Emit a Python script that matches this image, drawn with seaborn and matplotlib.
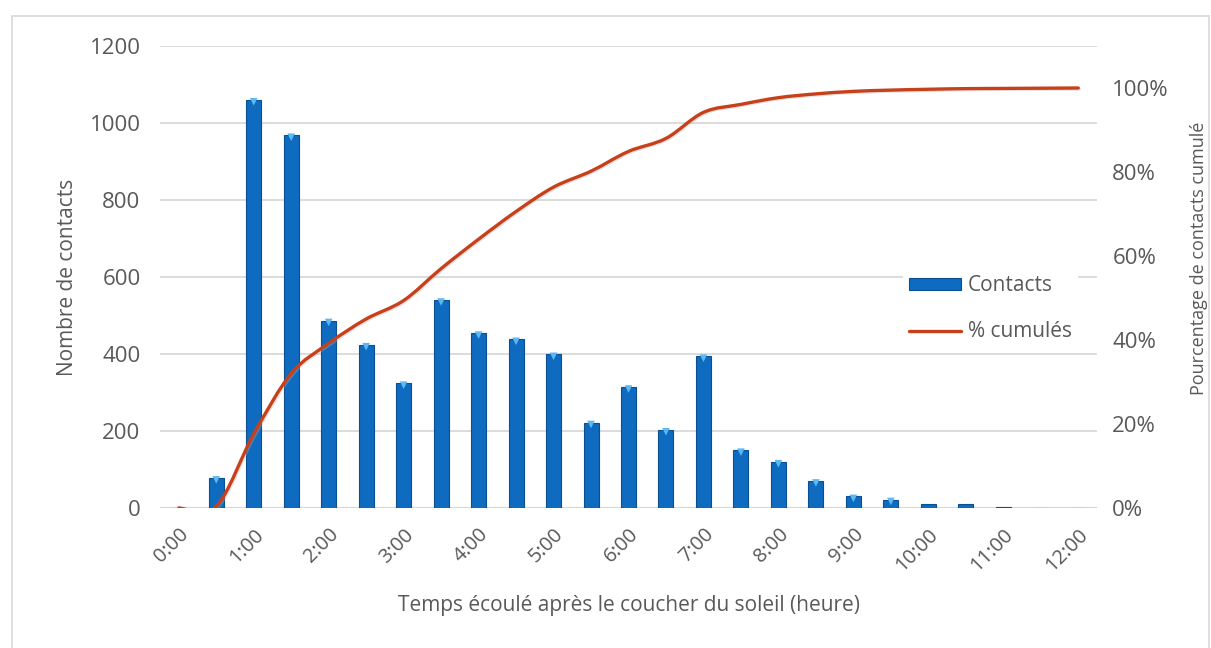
import numpy as np
import pandas as pd
import matplotlib
matplotlib.use("Agg")
import matplotlib.pyplot as plt
from matplotlib.path import Path
from matplotlib.patches import PathPatch, Rectangle, Patch
from matplotlib.lines import Line2D
from matplotlib.ticker import FixedLocator, PercentFormatter
import matplotlib.patheffects as pe
import seaborn as sns

# Half-hour bins after sunset
times = ["0:00", "0:30", "1:00", "1:30", "2:00", "2:30", "3:00", "3:30", "4:00",
         "4:30", "5:00", "5:30", "6:00", "6:30", "7:00", "7:30", "8:00", "8:30",
         "9:00", "9:30", "10:00", "10:30", "11:00", "11:30", "12:00"]
contacts = [0, 78, 1060, 968, 487, 424, 324, 540, 454, 438, 399, 222, 314, 203,
            394, 150, 120, 70, 30, 22, 11, 11, 3, 0, 1]
cumul_pct = [0.0, 0.4, 17.6, 32.0, 39.2, 45.0, 49.4, 57.0, 64.0, 70.6, 76.4, 80.2,
             84.9, 88.0, 94.2, 96.1, 97.7, 98.6, 99.2, 99.5, 99.7, 99.85, 99.9,
             99.95, 100.0]
hour_labels = ["0:00", "1:00", "2:00", "3:00", "4:00", "5:00", "6:00", "7:00",
               "8:00", "9:00", "10:00", "11:00", "12:00"]

TXT = "#595959"
GRID = "#D9D9D9"
BAR = "#0F6BBF"
BAR_EDGE = "#0B4F92"
BEVEL = "#5BB8F2"
LINE = "#C8401A"

sns.set_theme(style="white")
plt.rcParams["font.family"] = ["Open Sans", "DejaVu Sans"]
plt.rcParams["text.color"] = TXT
plt.rcParams["axes.labelcolor"] = TXT
plt.rcParams["xtick.color"] = TXT
plt.rcParams["ytick.color"] = TXT

df = pd.DataFrame({"temps": times, "contacts": contacts, "cumul": cumul_pct})

fig = plt.figure(figsize=(12.11, 6.48), dpi=100)
fig.patches.append(Rectangle((12 / 1211, -0.01), 1197 / 1211, (648 - 16) / 648 + 0.01,
                             transform=fig.transFigure, fill=False,
                             edgecolor=GRID, linewidth=1.2))
ax = fig.add_axes([160 / 1211, (648 - 508) / 648, 937 / 1211, 462 / 648])

sns.barplot(data=df, x="temps", y="contacts", order=times, color=BAR,
            width=0.4, saturation=1, edgecolor=BAR_EDGE, linewidth=0.8,
            ax=ax, zorder=2)

# Light bevel on bar tops
idx = np.arange(len(times))
vals = np.asarray(contacts, dtype=float)
show = vals >= 15
ax.scatter(idx[show], vals[show] - 5, marker="v", s=30, color=BEVEL,
           edgecolors="none", zorder=3)

ax.set_ylim(0, 1200)
ax.set_xlim(-0.5, len(times) - 0.5)
ax.yaxis.set_major_locator(FixedLocator(np.arange(0, 1201, 200)))
ax.grid(axis="y", color=GRID, linewidth=1.3, zorder=0)
ax.set_axisbelow(True)
for s in ax.spines.values():
    s.set_visible(False)
ax.axhline(0, color=GRID, linewidth=1.6, zorder=1)

tick_pos = [times.index(h) for h in hour_labels]
ax.set_xticks(tick_pos)
ax.set_xticklabels(hour_labels, rotation=45, ha="right", va="top",
                   rotation_mode="anchor", fontsize=14.5)
ax.tick_params(axis="x", length=0, pad=12)
ax.tick_params(axis="y", length=0, pad=14, labelsize=16)
ax.set_xlabel("Temps écoulé après le coucher du soleil (heure)", fontsize=15,
              labelpad=14)
ax.set_ylabel("Nombre de contacts", fontsize=15)
ax.yaxis.set_label_coords((78 - 160) / 937, 0.5)

# Cumulative percentage on the secondary axis, drawn as a smoothed curve
ax2 = ax.twinx()
ax2.set_ylim(0, 110)
ax2.yaxis.set_major_locator(FixedLocator(np.arange(0, 101, 20)))
ax2.yaxis.set_major_formatter(PercentFormatter(decimals=0))
for s in ax2.spines.values():
    s.set_visible(False)
ax2.tick_params(axis="y", length=0, pad=11, labelsize=16)
ax2.set_ylabel("Pourcentage de contacts cumulé", fontsize=13)
ax2.yaxis.set_label_coords((1190 - 160) / 937, (508 - 258) / 462)
ax2.grid(False)

pts = np.column_stack([idx.astype(float), np.asarray(cumul_pct, dtype=float)])
verts = [tuple(pts[0])]
codes = [Path.MOVETO]
n = len(pts)
for i in range(n - 1):
    p0 = pts[max(i - 1, 0)]
    p1 = pts[i]
    p2 = pts[i + 1]
    p3 = pts[min(i + 2, n - 1)]
    c1 = p1 + (p2 - p0) / 6.0
    c2 = p2 - (p3 - p1) / 6.0
    verts += [tuple(c1), tuple(c2), tuple(p2)]
    codes += [Path.CURVE4] * 3
curve = PathPatch(Path(verts, codes), facecolor="none", edgecolor=LINE,
                  linewidth=2.4, capstyle="round", joinstyle="round", zorder=4,
                  path_effects=[pe.SimpleLineShadow(offset=(0.8, -0.8),
                                                    shadow_color="#B0B0B0",
                                                    alpha=0.35),
                                pe.Normal()])
ax2.add_patch(curve)

handles = [Patch(facecolor=BAR, edgecolor=BAR_EDGE, linewidth=0.8),
           Line2D([0], [0], color=LINE, linewidth=2.4)]
leg = ax2.legend(handles, ["Contacts", "% cumulés"], loc="upper left",
                 bbox_to_anchor=((903 - 160) / 937, (508 - 269) / 462),
                 frameon=True, fontsize=15, handlelength=2.5,
                 handleheight=0.5, handletextpad=0.3, labelspacing=1.2,
                 borderpad=0.3, borderaxespad=0)
leg.get_frame().set_facecolor("white")
leg.get_frame().set_edgecolor("none")
leg.get_frame().set_alpha(1)
for t in leg.get_texts():
    t.set_color(TXT)

fig.savefig("out.png", dpi=100, facecolor="white")
